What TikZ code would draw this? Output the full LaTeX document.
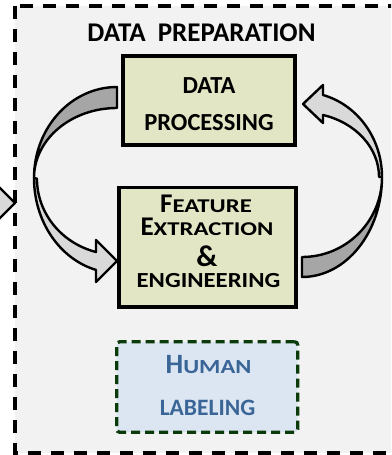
\documentclass[tikz,border=0pt]{standalone}
\usepackage{fontspec}
\usepackage{graphicx}
\setmainfont{Carlito}
\usetikzlibrary{shadows}
\definecolor{bgGray}{HTML}{F2F2F2}
\definecolor{oliveFill}{HTML}{E2E6C4}
\definecolor{humanFill}{HTML}{DCE6F2}
\definecolor{humanText}{HTML}{3A6597}
\definecolor{humanBorder}{HTML}{0B3A0B}
\definecolor{arrowDark}{HTML}{A6A6A6}
\definecolor{arrowLight}{HTML}{D9D9D9}
\newcommand\fsz[1]{\fontsize{#1}{#1}\selectfont}
\newcommand\hsc[2]{\scalebox{#1}[1]{#2}}
\tikzset{
  outerbox/.style={draw=black, line width=3.5pt, dash pattern=on 13pt off 10pt, fill=bgGray},
  procbox/.style={draw=black, line width=3.5pt, fill=oliveFill, inner sep=0pt,
    drop shadow={shadow xshift=1.5pt, shadow yshift=-1.5pt, opacity=0.3, fill=black}},
  humanbox/.style={draw=humanBorder, line width=3.3pt, dash pattern=on 9pt off 5pt,
    fill=humanFill, rounded corners=3pt, inner sep=0pt},
  lbl/.style={anchor=base, inner sep=0pt, font=\bfseries},
  arrowpart/.style={draw=black, line width=2.4pt, line join=round},
}
\begin{document}
\begin{tikzpicture}[x=1pt, y=-1pt]
\useasboundingbox (0,0) rectangle (391,455);
\clip (0,0) rectangle (391,455);
% outer dashed frame
\draw[outerbox] (15,6) rectangle (405,453);
% partial incoming arrow at the left edge
\draw[arrowpart, fill=arrowLight] (-12,176) -- (15,203) -- (-12,230);
% boxes
\node[procbox, minimum width=172pt, minimum height=89pt] (dp) at (209,100.5) {};
\node[procbox, minimum width=177pt, minimum height=119.5pt] (fe) at (207.7,247) {};
\node[humanbox, minimum width=181pt, minimum height=90.5pt] (hl) at (207.2,387) {};
% texts
\node[lbl, font=\bfseries\fsz{27}] (title) at (201.5,41) {DATA\hspace{6pt} PREPARATION};
\node[lbl, font=\bfseries\fsz{24.5}] (dp1) at (209,93) {DATA};
\node[lbl, font=\bfseries\fsz{24.5}] (dp2) at (209,130) {PROCESSING};
\node[lbl] (fe1) at (206,212) {\fsz{27}F\hsc{1.27}{\fsz{19.5}EATURE}};
\node[lbl] (fe2) at (207,235) {\fsz{27}E\hsc{1.27}{\fsz{19.5}XTRACTION}};
\node[lbl, font=\bfseries\fsz{30}] (fe3) at (207,266) {\&};
\node[lbl] (fe4) at (208.5,287) {\hsc{1.15}{\fsz{21.5}ENGINEERING}};
\node[lbl, text=humanText] (hl1) at (208.5,373) {\fsz{28}H\hsc{1.22}{\fsz{20}UMAN}};
\node[lbl, text=humanText, font=\bfseries\fsz{23.5}] (hl2) at (207.5,415) {LABELING};
% left curved arrow (from data processing to feature extraction)
\draw[arrowpart, fill=arrowLight] (34,178)
  arc[start angle=180, end angle=104.66, x radius=83, y radius=95]
  -- (96,282) -- (117,261) -- (96,240) -- (96,252)
  arc[start angle=105.2, end angle=180, x radius=80, y radius=76] -- cycle;
\draw[arrowpart, fill=arrowDark] (117,87)
  arc[start angle=270, end angle=180, x radius=83, y radius=91]
  arc[start angle=180, end angle=270, x radius=83, y radius=70] -- cycle;
% right curved arrow (from feature extraction back to data processing)
\draw[arrowpart, fill=arrowLight] (382,177)
  arc[start angle=360, end angle=285.2, x radius=80, y radius=85]
  -- (323,85) -- (303,104) -- (323,123) -- (323,115)
  arc[start angle=285.8, end angle=360, x radius=77, y radius=64.4] -- cycle;
\draw[arrowpart, fill=arrowDark] (302,277)
  arc[start angle=90, end angle=0, x radius=80, y radius=100]
  arc[start angle=0, end angle=90, x radius=80, y radius=80] -- cycle;
\end{tikzpicture}
\end{document}
